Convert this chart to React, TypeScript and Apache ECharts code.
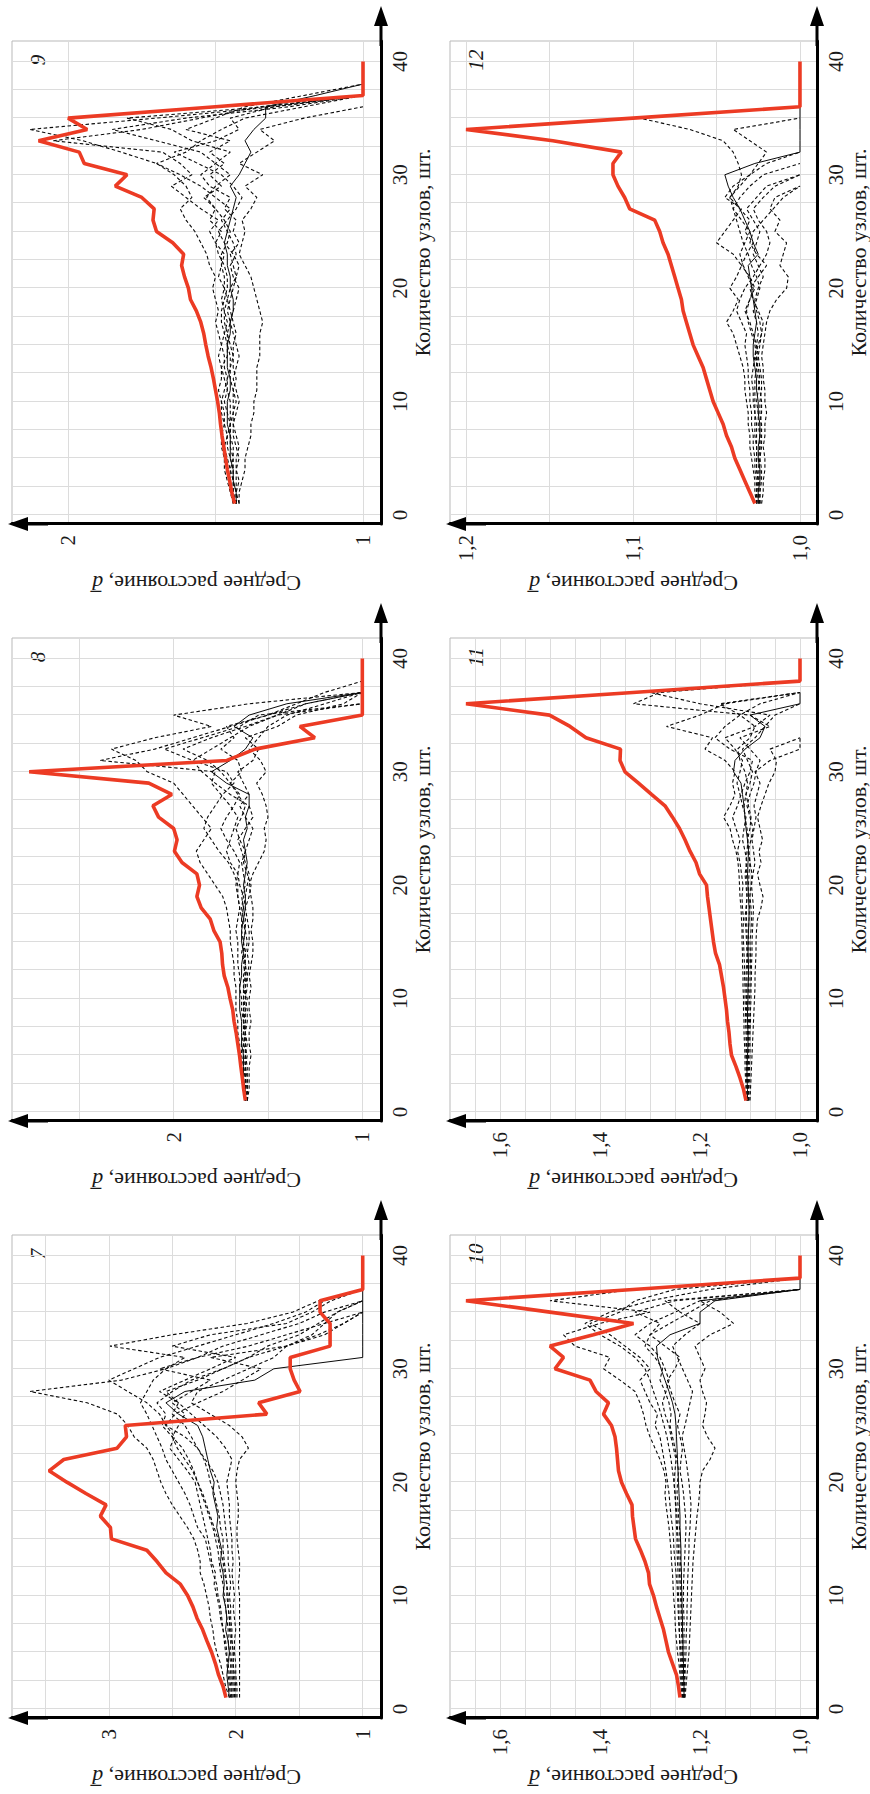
import React, { useEffect, useRef } from "react";
import * as echarts from "echarts";

// ---------- axis ticks ----------
const NODE_LABELS = [0, 10, 20, 30, 40];
const NODE_GRIDLINES = [0, 2.5, 5, 7.5, 10, 12.5, 15, 17.5, 20, 22.5, 25, 27.5, 30, 32.5, 35, 37.5, 40];
const NODE_MIN = -0.8;
const NODE_MAX = 41.8;

const X_TITLE = "Количество узлов, шт.";
const Y_TITLE = "Среднее расстояние, {i|d\u0305}";

// ---------- panel 7 ----------
const P7_RED = [2.077, 2.1, 2.135, 2.16, 2.19, 2.227, 2.261, 2.305, 2.337, 2.379, 2.436, 2.549, 2.62, 2.7, 2.979, 2.987, 3.066, 3.021, 3.18, 3.33, 3.47, 3.354, 2.934, 2.86, 2.87, 1.755, 1.82, 1.493, 1.54, 1.571, 1.571, 1.257, 1.257, 1.257, 1.336, 1.336, 1.0, 1.0, 1.0, 1.0];
const P7_SOLID = [2.05, 2.06, 2.07, 2.06, 2.05, 2.06, 2.08, 2.07, 2.08, 2.1, 2.09, 2.1, 2.12, 2.11, 2.13, 2.15, 2.14, 2.16, 2.18, 2.17, 2.2, 2.22, 2.24, 2.26, 2.3, 2.45, 2.55, 2.4, 1.85, 1.7, 1.0, 1.0, 1.0, 1.0, 1.0, 1.0, 1.0, 1.0];
const P7_DASHED = [
  [1.97, 1.97, 1.97, 1.97, 1.97, 1.97, 1.97, 1.97, 1.97, 1.97, 1.98, 1.97, 1.97, 1.98, 1.99, 1.99, 1.98, 1.98, 1.99, 2.0, 1.99, 1.97, 1.9, 1.95, 2.05, 2.2, 2.35, 2.3, 2.1, 1.9, 1.7, 1.6, 1.4, 1.3, 1.2, 1.0],
  [2.05, 2.08, 2.1, 2.12, 2.15, 2.17, 2.18, 2.2, 2.21, 2.23, 2.25, 2.28, 2.28, 2.3, 2.33, 2.38, 2.44, 2.5, 2.55, 2.59, 2.62, 2.65, 2.7, 2.8, 2.85, 2.93, 3.17, 3.62, 2.9, 2.55, 2.4, 2.99, 2.5, 1.91, 1.55, 1.35, 1.0],
  [2.03, 2.04, 2.05, 2.06, 2.08, 2.09, 2.1, 2.12, 2.13, 2.15, 2.17, 2.16, 2.19, 2.2, 2.22, 2.24, 2.26, 2.28, 2.3, 2.32, 2.38, 2.45, 2.52, 2.48, 2.55, 2.6, 2.7, 2.85, 3.0, 2.8, 2.6, 2.3, 2.0, 1.7, 1.45, 1.3, 1.0],
  [2.02, 2.02, 2.03, 2.03, 2.04, 2.04, 2.05, 2.05, 2.06, 2.07, 2.07, 2.08, 2.09, 2.1, 2.1, 2.12, 2.13, 2.15, 2.17, 2.2, 2.22, 2.25, 2.3, 2.35, 2.4, 2.5, 2.45, 2.6, 2.4, 2.2, 2.0, 2.5, 2.2, 1.6, 1.4, 1.25, 1.0],
  [2.01, 2.01, 2.02, 2.02, 2.02, 2.03, 2.03, 2.04, 2.04, 2.05, 2.04, 2.05, 2.06, 2.06, 2.07, 2.08, 2.09, 2.1, 2.12, 2.14, 2.18, 2.24, 2.3, 2.4, 2.55, 2.48, 2.3, 2.1, 1.95, 1.8, 2.2, 1.6, 1.35, 1.15, 1.0],
  [2.04, 2.05, 2.06, 2.07, 2.07, 2.08, 2.1, 2.11, 2.12, 2.14, 2.15, 2.18, 2.2, 2.22, 2.24, 2.3, 2.33, 2.36, 2.4, 2.45, 2.5, 2.55, 2.58, 2.62, 2.66, 2.7, 2.75, 2.7, 2.65, 2.55, 2.3, 2.1, 1.8, 1.5, 1.3, 1.0],
  [1.99, 1.99, 2.0, 2.0, 2.01, 2.01, 2.0, 2.01, 2.02, 2.01, 2.02, 2.03, 2.02, 2.03, 2.03, 2.04, 2.05, 2.05, 2.06, 2.07, 2.05, 2.03, 2.08, 2.15, 2.25, 2.35, 2.45, 2.55, 2.3, 2.1, 1.9, 1.6, 1.3, 1.15, 1.0],
  [2.0, 2.0, 2.01, 2.02, 2.02, 2.03, 2.04, 2.05, 2.06, 2.06, 2.07, 2.09, 2.1, 2.12, 2.14, 2.17, 2.2, 2.23, 2.26, 2.3, 2.34, 2.4, 2.46, 2.5, 2.45, 2.4, 2.5, 2.35, 2.2, 2.6, 2.3, 1.9, 1.6, 1.3, 1.0],
  [2.03, 2.03, 2.04, 2.04, 2.05, 2.06, 2.06, 2.07, 2.08, 2.09, 2.1, 2.12, 2.13, 2.14, 2.16, 2.18, 2.21, 2.24, 2.27, 2.3, 2.33, 2.37, 2.42, 2.5, 2.58, 2.55, 2.62, 2.5, 2.35, 2.1, 1.9, 1.75, 1.5, 1.35, 1.2, 1.0],
];
const P7_GRID = [1, 1.5, 2, 2.5, 3, 3.5];
const P7_LABELS = [1, 2, 3];

// ---------- panel 8 ----------
const P8_RED = [1.62, 1.629, 1.636, 1.644, 1.651, 1.66, 1.669, 1.68, 1.687, 1.701, 1.713, 1.732, 1.741, 1.745, 1.754, 1.787, 1.806, 1.854, 1.877, 1.863, 1.877, 1.956, 1.996, 1.982, 2.0, 2.08, 2.11, 2.01, 2.132, 2.766, 1.718, 1.569, 1.252, 1.331, 1.0, 1.0, 1.0, 1.0, 1.0, 1.0];
const P8_SOLID = [1.62, 1.62, 1.63, 1.63, 1.63, 1.64, 1.64, 1.64, 1.65, 1.65, 1.65, 1.64, 1.64, 1.63, 1.64, 1.64, 1.63, 1.62, 1.62, 1.63, 1.62, 1.61, 1.62, 1.63, 1.61, 1.62, 1.6, 1.6, 1.72, 1.8, 1.7, 1.62, 1.58, 1.68, 1.6, 1.4, 1.0, 1.0];
const P8_DASHED = [
  [1.61, 1.6, 1.6, 1.6, 1.59, 1.6, 1.6, 1.59, 1.6, 1.6, 1.59, 1.6, 1.59, 1.58, 1.58, 1.59, 1.58, 1.58, 1.59, 1.6, 1.58, 1.55, 1.52, 1.51, 1.52, 1.5, 1.51, 1.53, 1.56, 1.51, 1.54, 1.6, 1.55, 1.5, 1.4, 1.2, 1.0],
  [1.62, 1.63, 1.64, 1.64, 1.65, 1.65, 1.66, 1.66, 1.67, 1.67, 1.67, 1.68, 1.68, 1.69, 1.7, 1.7, 1.71, 1.72, 1.74, 1.78, 1.82, 1.86, 1.88, 1.84, 1.8, 1.85, 1.9, 1.95, 2.0, 2.14, 2.2, 2.33, 2.1, 1.8, 2.0, 1.6, 1.0],
  [1.61, 1.62, 1.62, 1.63, 1.62, 1.62, 1.63, 1.62, 1.63, 1.63, 1.62, 1.62, 1.63, 1.62, 1.61, 1.62, 1.63, 1.64, 1.63, 1.65, 1.66, 1.7, 1.72, 1.7, 1.68, 1.66, 1.7, 1.75, 1.8, 1.78, 2.39, 2.1, 1.9, 1.7, 1.5, 1.3, 1.0],
  [1.62, 1.61, 1.61, 1.62, 1.62, 1.61, 1.62, 1.61, 1.61, 1.62, 1.62, 1.61, 1.6, 1.61, 1.6, 1.6, 1.61, 1.62, 1.6, 1.59, 1.61, 1.63, 1.62, 1.6, 1.58, 1.62, 1.65, 1.6, 1.63, 1.66, 1.58, 1.55, 1.62, 1.45, 1.35, 1.1, 1.0],
  [1.62, 1.63, 1.63, 1.63, 1.64, 1.64, 1.63, 1.63, 1.64, 1.64, 1.65, 1.65, 1.66, 1.66, 1.66, 1.67, 1.66, 1.65, 1.66, 1.66, 1.68, 1.71, 1.76, 1.8, 1.84, 1.82, 1.78, 1.74, 1.68, 1.72, 1.9, 2.05, 1.85, 1.65, 1.55, 1.0],
  [1.61, 1.61, 1.62, 1.62, 1.61, 1.63, 1.62, 1.63, 1.62, 1.61, 1.63, 1.63, 1.62, 1.64, 1.63, 1.62, 1.64, 1.63, 1.64, 1.62, 1.63, 1.64, 1.62, 1.65, 1.67, 1.64, 1.62, 1.66, 1.7, 1.64, 1.66, 1.75, 1.68, 1.72, 1.5, 1.35, 1.2, 1.0],
  [1.62, 1.62, 1.62, 1.63, 1.63, 1.63, 1.62, 1.62, 1.62, 1.63, 1.63, 1.62, 1.62, 1.63, 1.63, 1.62, 1.62, 1.63, 1.62, 1.61, 1.6, 1.62, 1.64, 1.66, 1.62, 1.58, 1.6, 1.7, 1.78, 1.85, 1.9, 1.8, 1.7, 1.6, 1.45, 1.0],
  [1.61, 1.61, 1.61, 1.61, 1.62, 1.62, 1.62, 1.63, 1.63, 1.62, 1.61, 1.61, 1.62, 1.62, 1.63, 1.64, 1.64, 1.65, 1.66, 1.67, 1.66, 1.65, 1.68, 1.72, 1.75, 1.72, 1.68, 1.65, 1.7, 1.75, 1.82, 1.95, 1.8, 1.62, 1.45, 1.3, 1.0],
];
const P8_GRID = [1, 1.5, 2, 2.5];
const P8_LABELS = [1, 2];

// ---------- panel 9 ----------
const P9_RED = [1.435, 1.445, 1.452, 1.46, 1.466, 1.472, 1.478, 1.483, 1.487, 1.493, 1.5, 1.507, 1.515, 1.525, 1.533, 1.54, 1.55, 1.565, 1.585, 1.592, 1.605, 1.615, 1.608, 1.645, 1.7, 1.712, 1.708, 1.75, 1.84, 1.8, 1.945, 1.962, 2.1, 1.935, 2.0, 1.5, 1.0, 1.0, 1.0, 1.0];
const P9_SOLID = [1.43, 1.43, 1.44, 1.44, 1.45, 1.45, 1.45, 1.46, 1.46, 1.46, 1.45, 1.45, 1.46, 1.46, 1.46, 1.45, 1.45, 1.44, 1.44, 1.45, 1.45, 1.46, 1.46, 1.47, 1.46, 1.45, 1.44, 1.43, 1.45, 1.42, 1.4, 1.38, 1.4, 1.37, 1.33, 1.33, 1.16, 1.0];
const P9_DASHED = [
  [1.42, 1.42, 1.41, 1.4, 1.4, 1.39, 1.38, 1.38, 1.37, 1.37, 1.36, 1.36, 1.36, 1.35, 1.35, 1.35, 1.34, 1.35, 1.36, 1.37, 1.38, 1.4, 1.42, 1.41, 1.4, 1.41, 1.38, 1.36, 1.4, 1.34, 1.42, 1.36, 1.3, 1.35, 1.2, 1.0],
  [1.44, 1.45, 1.46, 1.47, 1.47, 1.48, 1.48, 1.47, 1.48, 1.48, 1.49, 1.48, 1.48, 1.49, 1.48, 1.49, 1.5, 1.49, 1.5, 1.51, 1.5, 1.52, 1.53, 1.55, 1.57, 1.6, 1.62, 1.58, 1.6, 1.64, 1.7, 1.82, 1.95, 2.13, 1.7, 1.3, 1.0],
  [1.43, 1.44, 1.45, 1.45, 1.46, 1.47, 1.46, 1.47, 1.47, 1.48, 1.47, 1.46, 1.47, 1.47, 1.48, 1.47, 1.46, 1.47, 1.48, 1.47, 1.49, 1.48, 1.47, 1.5, 1.52, 1.49, 1.55, 1.6, 1.65, 1.58, 1.62, 1.68, 2.05, 1.75, 1.55, 1.35, 1.0],
  [1.43, 1.43, 1.42, 1.43, 1.43, 1.42, 1.43, 1.44, 1.43, 1.42, 1.43, 1.44, 1.43, 1.42, 1.43, 1.44, 1.45, 1.44, 1.43, 1.42, 1.44, 1.45, 1.43, 1.44, 1.46, 1.48, 1.45, 1.5, 1.55, 1.62, 1.7, 1.6, 1.55, 1.48, 1.4, 1.2, 1.0],
  [1.44, 1.44, 1.44, 1.45, 1.44, 1.44, 1.45, 1.45, 1.44, 1.44, 1.44, 1.45, 1.45, 1.44, 1.45, 1.46, 1.45, 1.46, 1.45, 1.44, 1.43, 1.44, 1.45, 1.42, 1.44, 1.43, 1.47, 1.45, 1.52, 1.55, 1.5, 1.45, 1.58, 1.65, 1.8, 1.33, 1.0],
  [1.43, 1.43, 1.44, 1.44, 1.45, 1.46, 1.46, 1.45, 1.46, 1.47, 1.46, 1.47, 1.48, 1.46, 1.46, 1.47, 1.48, 1.48, 1.47, 1.46, 1.46, 1.47, 1.49, 1.5, 1.48, 1.52, 1.5, 1.54, 1.48, 1.52, 1.47, 1.52, 1.45, 1.6, 1.5, 1.4, 1.2, 1.0],
  [1.43, 1.44, 1.44, 1.44, 1.44, 1.45, 1.45, 1.45, 1.45, 1.45, 1.46, 1.46, 1.45, 1.45, 1.46, 1.46, 1.47, 1.47, 1.46, 1.47, 1.47, 1.48, 1.48, 1.46, 1.45, 1.47, 1.5, 1.53, 1.5, 1.45, 1.5, 1.55, 1.7, 1.85, 1.6, 1.25, 1.0],
  [1.42, 1.43, 1.43, 1.43, 1.42, 1.43, 1.44, 1.44, 1.44, 1.43, 1.44, 1.43, 1.44, 1.44, 1.44, 1.43, 1.44, 1.45, 1.46, 1.45, 1.43, 1.42, 1.44, 1.47, 1.49, 1.46, 1.43, 1.41, 1.44, 1.48, 1.56, 1.64, 1.5, 1.42, 1.45, 1.3, 1.0],
];
const P9_GRID = [1, 1.5, 2];
const P9_LABELS = [1, 2];

// ---------- panel 10 ----------
const P10_RED = [1.24, 1.243, 1.247, 1.255, 1.263, 1.268, 1.273, 1.28, 1.287, 1.293, 1.301, 1.303, 1.31, 1.319, 1.329, 1.332, 1.335, 1.336, 1.347, 1.357, 1.363, 1.365, 1.367, 1.37, 1.377, 1.393, 1.383, 1.408, 1.42, 1.49, 1.473, 1.5, 1.413, 1.333, 1.5, 1.668, 1.334, 1.0, 1.0, 1.0];
const P10_SOLID = [1.232, 1.232, 1.233, 1.233, 1.234, 1.234, 1.235, 1.235, 1.236, 1.236, 1.237, 1.237, 1.238, 1.238, 1.239, 1.24, 1.24, 1.241, 1.242, 1.243, 1.244, 1.245, 1.246, 1.247, 1.248, 1.25, 1.255, 1.262, 1.27, 1.278, 1.285, 1.287, 1.26, 1.2, 1.2, 1.17, 1.0, 1.0];
const P10_DASHED = [
  [1.236, 1.238, 1.24, 1.242, 1.245, 1.247, 1.249, 1.25, 1.251, 1.253, 1.254, 1.255, 1.257, 1.258, 1.26, 1.262, 1.265, 1.268, 1.27, 1.268, 1.272, 1.28, 1.29, 1.3, 1.308, 1.313, 1.32, 1.33, 1.36, 1.393, 1.38, 1.45, 1.473, 1.4, 1.3, 1.5, 1.334, 1.0],
  [1.23, 1.228, 1.226, 1.224, 1.222, 1.221, 1.22, 1.219, 1.218, 1.217, 1.216, 1.215, 1.214, 1.212, 1.21, 1.208, 1.206, 1.203, 1.201, 1.2, 1.195, 1.18, 1.17, 1.185, 1.195, 1.19, 1.187, 1.195, 1.2, 1.19, 1.2, 1.21, 1.18, 1.133, 1.16, 1.2, 1.0],
  [1.234, 1.235, 1.236, 1.237, 1.238, 1.24, 1.242, 1.243, 1.244, 1.245, 1.246, 1.248, 1.25, 1.252, 1.253, 1.255, 1.258, 1.26, 1.262, 1.265, 1.268, 1.272, 1.276, 1.28, 1.29, 1.285, 1.3, 1.31, 1.32, 1.3, 1.32, 1.35, 1.38, 1.42, 1.36, 1.33, 1.25, 1.0],
  [1.231, 1.23, 1.23, 1.229, 1.228, 1.228, 1.227, 1.226, 1.226, 1.225, 1.225, 1.224, 1.223, 1.222, 1.222, 1.22, 1.219, 1.218, 1.22, 1.222, 1.225, 1.228, 1.232, 1.236, 1.23, 1.225, 1.22, 1.215, 1.225, 1.235, 1.245, 1.255, 1.23, 1.2, 1.24, 1.27, 1.0],
  [1.233, 1.234, 1.234, 1.235, 1.236, 1.236, 1.237, 1.238, 1.238, 1.239, 1.24, 1.241, 1.242, 1.243, 1.244, 1.245, 1.246, 1.248, 1.25, 1.252, 1.255, 1.258, 1.262, 1.266, 1.272, 1.278, 1.285, 1.293, 1.3, 1.31, 1.33, 1.36, 1.4, 1.43, 1.38, 1.3, 1.18, 1.0],
  [1.235, 1.236, 1.238, 1.239, 1.24, 1.241, 1.241, 1.242, 1.242, 1.243, 1.244, 1.244, 1.245, 1.246, 1.246, 1.247, 1.248, 1.249, 1.25, 1.252, 1.25, 1.248, 1.253, 1.258, 1.262, 1.27, 1.275, 1.268, 1.262, 1.27, 1.28, 1.3, 1.33, 1.3, 1.25, 1.2, 1.0],
  [1.233, 1.233, 1.234, 1.234, 1.235, 1.235, 1.236, 1.236, 1.237, 1.237, 1.238, 1.238, 1.239, 1.24, 1.24, 1.241, 1.243, 1.244, 1.246, 1.245, 1.243, 1.246, 1.25, 1.255, 1.26, 1.258, 1.262, 1.27, 1.28, 1.275, 1.29, 1.31, 1.3, 1.28, 1.33, 1.25, 1.0],
  [1.231, 1.231, 1.231, 1.231, 1.232, 1.232, 1.232, 1.232, 1.233, 1.233, 1.233, 1.232, 1.231, 1.23, 1.229, 1.228, 1.229, 1.231, 1.233, 1.236, 1.24, 1.238, 1.235, 1.24, 1.245, 1.24, 1.25, 1.258, 1.265, 1.25, 1.24, 1.27, 1.3, 1.26, 1.22, 1.18, 1.0],
];
const P10_GRID = [1, 1.05, 1.1, 1.15, 1.2, 1.25, 1.3, 1.35, 1.4, 1.45, 1.5, 1.55, 1.6, 1.65];
const P10_LABELS = [1.0, 1.2, 1.4, 1.6];

// ---------- panel 11 ----------
const P11_RED = [1.108, 1.113, 1.12, 1.128, 1.137, 1.14, 1.142, 1.145, 1.147, 1.15, 1.153, 1.157, 1.161, 1.169, 1.173, 1.176, 1.179, 1.182, 1.185, 1.187, 1.201, 1.208, 1.22, 1.23, 1.241, 1.255, 1.27, 1.297, 1.323, 1.35, 1.36, 1.359, 1.428, 1.46, 1.501, 1.668, 1.334, 1.0, 1.0, 1.0];
const P11_SOLID = [1.105, 1.105, 1.106, 1.106, 1.105, 1.104, 1.104, 1.105, 1.105, 1.104, 1.104, 1.103, 1.103, 1.104, 1.104, 1.103, 1.102, 1.102, 1.103, 1.104, 1.105, 1.104, 1.103, 1.105, 1.108, 1.11, 1.112, 1.115, 1.118, 1.133, 1.13, 1.11, 1.08, 1.07, 1.1, 1.0, 1.0];
const P11_DASHED = [
  [1.107, 1.108, 1.109, 1.11, 1.11, 1.111, 1.112, 1.112, 1.113, 1.113, 1.114, 1.114, 1.115, 1.115, 1.116, 1.116, 1.117, 1.118, 1.12, 1.121, 1.122, 1.124, 1.128, 1.135, 1.14, 1.153, 1.14, 1.13, 1.135, 1.13, 1.15, 1.19, 1.175, 1.267, 1.2, 1.15, 1.0],
  [1.1, 1.099, 1.098, 1.097, 1.096, 1.095, 1.094, 1.093, 1.092, 1.091, 1.09, 1.09, 1.089, 1.088, 1.088, 1.087, 1.085, 1.078, 1.074, 1.08, 1.085, 1.078, 1.082, 1.075, 1.08, 1.085, 1.078, 1.07, 1.062, 1.05, 1.047, 1.06, 1.0],
  [1.104, 1.104, 1.103, 1.103, 1.103, 1.102, 1.102, 1.101, 1.102, 1.101, 1.1, 1.1, 1.099, 1.099, 1.1, 1.098, 1.097, 1.098, 1.1, 1.098, 1.096, 1.1, 1.104, 1.098, 1.094, 1.1, 1.106, 1.1, 1.092, 1.088, 1.08, 1.1, 1.12, 1.06, 1.1, 1.333, 1.28, 1.0],
  [1.106, 1.106, 1.107, 1.107, 1.108, 1.108, 1.108, 1.109, 1.109, 1.11, 1.11, 1.111, 1.111, 1.112, 1.113, 1.114, 1.113, 1.115, 1.116, 1.114, 1.117, 1.12, 1.125, 1.12, 1.128, 1.135, 1.125, 1.118, 1.11, 1.1, 1.095, 1.14, 1.17, 1.15, 1.12, 1.08, 1.0],
  [1.102, 1.102, 1.101, 1.101, 1.1, 1.1, 1.1, 1.099, 1.099, 1.098, 1.098, 1.097, 1.097, 1.096, 1.096, 1.095, 1.094, 1.093, 1.095, 1.097, 1.094, 1.09, 1.093, 1.096, 1.092, 1.088, 1.092, 1.086, 1.08, 1.09, 1.06, 1.0, 1.0],
  [1.105, 1.106, 1.106, 1.107, 1.107, 1.107, 1.106, 1.106, 1.107, 1.107, 1.108, 1.108, 1.107, 1.106, 1.107, 1.108, 1.11, 1.108, 1.106, 1.108, 1.11, 1.106, 1.11, 1.115, 1.112, 1.108, 1.115, 1.12, 1.126, 1.12, 1.115, 1.13, 1.15, 1.09, 1.06, 1.2, 1.3, 1.0],
  [1.104, 1.105, 1.105, 1.105, 1.106, 1.106, 1.105, 1.105, 1.106, 1.106, 1.106, 1.106, 1.105, 1.105, 1.106, 1.106, 1.107, 1.107, 1.106, 1.106, 1.107, 1.108, 1.106, 1.104, 1.106, 1.11, 1.112, 1.108, 1.105, 1.11, 1.12, 1.125, 1.1, 1.09, 1.12, 1.16, 1.0],
  [1.103, 1.103, 1.104, 1.104, 1.104, 1.103, 1.103, 1.103, 1.104, 1.104, 1.103, 1.103, 1.102, 1.102, 1.103, 1.103, 1.102, 1.101, 1.102, 1.103, 1.102, 1.1, 1.102, 1.105, 1.1, 1.098, 1.103, 1.108, 1.1, 1.095, 1.105, 1.115, 1.09, 1.07, 1.05, 1.0],
];
const P11_GRID = [1, 1.05, 1.1, 1.15, 1.2, 1.25, 1.3, 1.35, 1.4, 1.45, 1.5, 1.55, 1.6, 1.65];
const P11_LABELS = [1.0, 1.2, 1.4, 1.6];

// ---------- panel 12 ----------
const P12_RED = [1.027, 1.03, 1.033, 1.036, 1.039, 1.041, 1.044, 1.046, 1.049, 1.052, 1.054, 1.056, 1.058, 1.061, 1.064, 1.066, 1.068, 1.07, 1.071, 1.073, 1.075, 1.077, 1.079, 1.082, 1.084, 1.087, 1.102, 1.105, 1.109, 1.112, 1.112, 1.107, 1.148, 1.2, 1.1, 1.0, 1.0, 1.0, 1.0, 1.0];
const P12_SOLID = [1.025, 1.025, 1.024, 1.024, 1.025, 1.025, 1.024, 1.024, 1.025, 1.025, 1.026, 1.026, 1.027, 1.028, 1.028, 1.027, 1.026, 1.027, 1.028, 1.029, 1.03, 1.031, 1.025, 1.028, 1.03, 1.033, 1.036, 1.04, 1.043, 1.045, 1.027, 1.0, 1.0, 1.0, 1.0, 1.0];
const P12_DASHED = [
  [1.026, 1.027, 1.027, 1.028, 1.029, 1.03, 1.03, 1.031, 1.031, 1.032, 1.033, 1.033, 1.034, 1.036, 1.038, 1.04, 1.044, 1.04, 1.037, 1.042, 1.038, 1.035, 1.04, 1.05, 1.045, 1.04, 1.035, 1.045, 1.04, 1.03, 1.02, 1.0],
  [1.023, 1.022, 1.022, 1.021, 1.021, 1.022, 1.021, 1.021, 1.02, 1.021, 1.021, 1.022, 1.022, 1.023, 1.022, 1.021, 1.02, 1.018, 1.014, 1.008, 1.007, 1.012, 1.01, 1.008, 1.015, 1.012, 1.018, 1.015, 1.0],
  [1.024, 1.024, 1.023, 1.023, 1.024, 1.023, 1.023, 1.023, 1.024, 1.024, 1.023, 1.023, 1.024, 1.025, 1.026, 1.028, 1.03, 1.033, 1.03, 1.027, 1.03, 1.035, 1.032, 1.028, 1.033, 1.03, 1.036, 1.042, 1.037, 1.035, 1.037, 1.04, 1.046, 1.066, 1.096, 1.0],
  [1.025, 1.026, 1.026, 1.027, 1.027, 1.028, 1.028, 1.029, 1.029, 1.03, 1.03, 1.031, 1.031, 1.032, 1.033, 1.032, 1.035, 1.038, 1.036, 1.033, 1.028, 1.024, 1.02, 1.018, 1.02, 1.025, 1.028, 1.022, 1.015, 1.0],
  [1.024, 1.025, 1.025, 1.026, 1.026, 1.026, 1.027, 1.027, 1.027, 1.028, 1.028, 1.029, 1.028, 1.027, 1.026, 1.025, 1.026, 1.028, 1.026, 1.024, 1.026, 1.029, 1.031, 1.034, 1.036, 1.038, 1.04, 1.042, 1.036, 1.03, 1.025, 1.02, 1.03, 1.04, 1.0],
  [1.026, 1.026, 1.025, 1.025, 1.024, 1.024, 1.024, 1.025, 1.025, 1.026, 1.025, 1.024, 1.025, 1.027, 1.025, 1.023, 1.022, 1.025, 1.028, 1.03, 1.025, 1.02, 1.026, 1.03, 1.028, 1.022, 1.016, 1.01, 1.0],
  [1.025, 1.025, 1.025, 1.026, 1.026, 1.026, 1.026, 1.026, 1.027, 1.027, 1.027, 1.027, 1.026, 1.026, 1.027, 1.029, 1.031, 1.032, 1.03, 1.028, 1.031, 1.034, 1.036, 1.033, 1.03, 1.035, 1.04, 1.036, 1.03, 1.022, 1.0],
  [1.024, 1.024, 1.024, 1.024, 1.025, 1.024, 1.024, 1.024, 1.023, 1.023, 1.024, 1.025, 1.026, 1.025, 1.024, 1.023, 1.024, 1.026, 1.027, 1.025, 1.022, 1.025, 1.028, 1.026, 1.024, 1.028, 1.032, 1.026, 1.02, 1.0],
];
const P12_GRID = [1, 1.05, 1.1, 1.15, 1.2];
const P12_LABELS = [1.0, 1.1, 1.2];

// ---------- panel list (row/col in the unrotated figure) ----------
const PANELS = [
  { id: "7", red: P7_RED, solid: P7_SOLID, dashed: P7_DASHED, grid: P7_GRID, labels: P7_LABELS, min: 0.856, max: 3.762, dec: 0, col: 0, row: 0 },
  { id: "8", red: P8_RED, solid: P8_SOLID, dashed: P8_DASHED, grid: P8_GRID, labels: P8_LABELS, min: 0.901, max: 2.857, dec: 0, col: 1, row: 0 },
  { id: "9", red: P9_RED, solid: P9_SOLID, dashed: P9_DASHED, grid: P9_GRID, labels: P9_LABELS, min: 0.939, max: 2.19, dec: 0, col: 2, row: 0 },
  { id: "10", red: P10_RED, solid: P10_SOLID, dashed: P10_DASHED, grid: P10_GRID, labels: P10_LABELS, min: 0.966, max: 1.7, dec: 1, col: 0, row: 1 },
  { id: "11", red: P11_RED, solid: P11_SOLID, dashed: P11_DASHED, grid: P11_GRID, labels: P11_LABELS, min: 0.966, max: 1.7, dec: 1, col: 1, row: 1 },
  { id: "12", red: P12_RED, solid: P12_SOLID, dashed: P12_DASHED, grid: P12_GRID, labels: P12_LABELS, min: 0.9898, max: 1.2096, dec: 1, col: 2, row: 1 },
];

// ---------- layout (unrotated canvas 1794 x 870, rotated -90deg on the page) ----------
const CANVAS_W = 1794;
const CANVAS_H = 870;
const COL_LEFT = [76, 673, 1270];
const GRID_W = 483;
const ROW_TOP = [12, 450];
const ROW_H = [369, 367];

const FONT = '"Liberation Serif", "Times New Roman", serif';
const ARROW = "path://M7,0L14,20L8.5,20L8.5,40L5.5,40L5.5,20L0,20Z";
const RED = "#ec3b24";
const INK = "#0a0a0a";

const pts = (arr: number[]) => arr.map((v, k) => [k + 1, v]);

function buildOption() {
  const grid: any[] = [];
  const xAxis: any[] = [];
  const yAxis: any[] = [];
  const series: any[] = [];
  const graphic: any[] = [];

  PANELS.forEach((p, i) => {
    const left = COL_LEFT[p.col];
    const top = ROW_TOP[p.row];
    const height = ROW_H[p.row];
    grid.push({ left, top, width: GRID_W, height, show: true, borderColor: "#b9b9b9", borderWidth: 1, backgroundColor: "transparent" });

    xAxis.push({
      type: "value",
      gridIndex: i,
      min: NODE_MIN,
      max: NODE_MAX,
      axisLine: { show: true, onZero: false, lineStyle: { color: "#000", width: 3 }, symbol: ["none", ARROW], symbolSize: [14, 40], symbolOffset: [0, 15] },
      axisTick: { show: false, customValues: NODE_GRIDLINES },
      axisLabel: { customValues: NODE_LABELS, fontFamily: FONT, fontSize: 21, color: "#1a1a1a", margin: 8 },
      splitLine: { show: true, lineStyle: { color: "#dcdcdc", width: 1 } },
      name: X_TITLE,
      nameLocation: "middle",
      nameGap: 30,
      nameTextStyle: { fontFamily: FONT, fontSize: 22, color: "#1a1a1a", padding: [0, 0, 0, 60] },
    });

    yAxis.push({
      type: "value",
      gridIndex: i,
      min: p.min,
      max: p.max,
      axisLine: { show: true, onZero: false, lineStyle: { color: "#000", width: 3 }, symbol: ["none", ARROW], symbolSize: [14, 40], symbolOffset: [0, -16] },
      axisTick: { show: false, customValues: p.grid },
      axisLabel: {
        customValues: p.labels,
        fontFamily: FONT,
        fontSize: 21,
        color: "#1a1a1a",
        margin: 11,
        formatter: (v: number) => (p.dec ? v.toFixed(p.dec).replace(".", ",") : String(Math.round(v))),
      },
      splitLine: { show: true, lineStyle: { color: "#dcdcdc", width: 1 } },
      name: Y_TITLE,
      nameLocation: "middle",
      nameGap: 48,
      nameRotate: 90,
      nameTextStyle: {
        fontFamily: FONT,
        fontSize: 22,
        color: "#1a1a1a",
        rich: { i: { fontFamily: FONT, fontSize: 22, fontStyle: "italic", color: "#1a1a1a" } },
      },
    });

    p.dashed.forEach((d) => {
      series.push({
        type: "line", xAxisIndex: i, yAxisIndex: i, data: pts(d), symbol: "none", silent: true, z: 2,
        lineStyle: { color: INK, width: 1.1, type: [3.5, 2.5] },
      });
    });
    series.push({
      type: "line", xAxisIndex: i, yAxisIndex: i, data: pts(p.solid), symbol: "none", silent: true, z: 3,
      lineStyle: { color: INK, width: 1 },
    });
    series.push({
      type: "line", xAxisIndex: i, yAxisIndex: i, data: pts(p.red), symbol: "none", silent: true, z: 4,
      lineStyle: { color: RED, width: 3.6 },
    });

    graphic.push({
      type: "text",
      x: left + GRID_W - 19,
      y: top + 26,
      style: {
        text: p.id,
        font: `italic 21px ${FONT}`,
        fill: "#1a1a1a",
        align: "center",
        verticalAlign: "middle",
        textAlign: "center",
        textVerticalAlign: "middle",
      },
    });
  });

  return { animation: false, backgroundColor: "#fff", grid, xAxis, yAxis, series, graphic };
}

export default function App() {
  const ref = useRef<HTMLDivElement>(null);
  useEffect(() => {
    if (!ref.current) return;
    const chart = echarts.init(ref.current, null, { renderer: "svg" });
    chart.setOption(buildOption() as any);
    return () => chart.dispose();
  }, []);
  return (
    <div style={{ position: "absolute", left: 0, top: 0, width: CANVAS_H, height: CANVAS_W, overflow: "hidden", background: "#fff" }}>
      <div
        ref={ref}
        style={{
          position: "absolute",
          left: 0,
          top: 0,
          width: CANVAS_W,
          height: CANVAS_H,
          transformOrigin: "0 0",
          transform: `translateY(${CANVAS_W}px) rotate(-90deg)`,
        }}
      />
    </div>
  );
}
